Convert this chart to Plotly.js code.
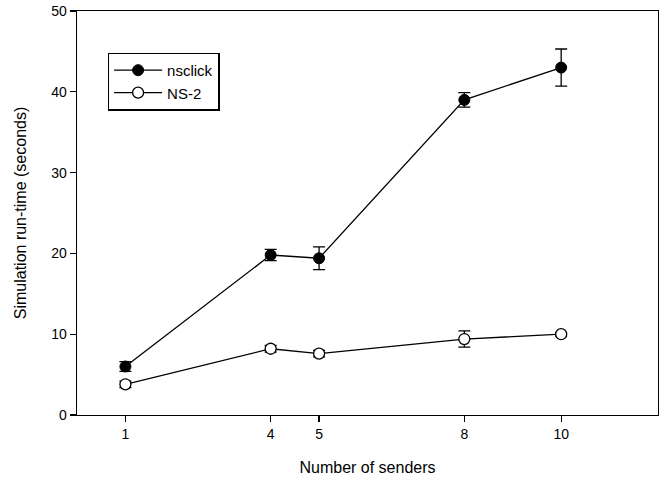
<!DOCTYPE html>
<html>
<head>
<meta charset="utf-8">
<script src="https://cdn.plot.ly/plotly-3.0.1.min.js"></script>
<style>html,body{margin:0;padding:0;background:#fff;}#chart{width:665px;height:486px;}</style>
</head>
<body>
<div id="chart"></div>
<script>
const senders = [1, 4, 5, 8, 10];
const nsclickTime = [6.0, 19.8, 19.4, 39.0, 43.0];
const nsclickErr = [0.6, 0.7, 1.4, 0.9, 2.3];
const ns2Time = [3.8, 8.2, 7.6, 9.4, 10.0];
const ns2Err = [0.4, 0.4, 0.4, 1.0, 0.2];
const xTicks = [1, 4, 5, 8, 10];
const yTicks = [0, 10, 20, 30, 40, 50];

const font = {family: 'Liberation Sans, Arial, sans-serif', color: '#000'};

const traces = [
  {
    x: senders, y: nsclickTime, name: 'nsclick', type: 'scatter', mode: 'lines+markers',
    line: {color: '#000', width: 1.3},
    marker: {symbol: 'circle', size: 11, color: '#000', line: {color: '#000', width: 1}},
    error_y: {type: 'data', array: nsclickErr, visible: true, color: '#000', thickness: 1.3, width: 6}
  },
  {
    x: senders, y: ns2Time, name: 'NS-2', type: 'scatter', mode: 'lines+markers',
    line: {color: '#000', width: 1.3},
    marker: {symbol: 'circle', size: 11, color: '#fff', line: {color: '#000', width: 1.3}},
    error_y: {type: 'data', array: ns2Err, visible: true, color: '#000', thickness: 1.3, width: 6}
  }
];

const layout = {
  width: 665, height: 486,
  margin: {l: 77, r: 7, t: 11, b: 71},
  paper_bgcolor: '#fff', plot_bgcolor: '#fff',
  font: Object.assign({size: 13}, font),
  showlegend: true,
  legend: {
    x: 0.053, y: 0.897, xanchor: 'left', yanchor: 'top',
    bordercolor: '#000', borderwidth: 1.3, bgcolor: '#fff',
    font: Object.assign({size: 15}, font),
    tracegroupgap: 0, itemwidth: 48
  },
  xaxis: {
    range: [0, 12], tickvals: xTicks, ticktext: xTicks.map(String),
    showgrid: false, zeroline: false, showline: true, mirror: true,
    linecolor: '#000', linewidth: 1.3, ticks: 'outside', ticklen: 6, tickwidth: 1.3, tickcolor: '#000',
    tickfont: Object.assign({size: 14}, font),
    title: {text: 'Number of senders', font: Object.assign({size: 16}, font), standoff: 20}
  },
  yaxis: {
    range: [0, 50], tickvals: yTicks,
    showgrid: false, zeroline: false, showline: true, mirror: true,
    linecolor: '#000', linewidth: 1.3, ticks: 'outside', ticklen: 6, tickwidth: 1.3, tickcolor: '#000',
    tickfont: Object.assign({size: 14}, font),
    title: {text: 'Simulation run-time (seconds)', font: Object.assign({size: 16}, font), standoff: 20}
  }
};

Plotly.newPlot('chart', traces, layout, {staticPlot: true});
</script>
</body>
</html>
